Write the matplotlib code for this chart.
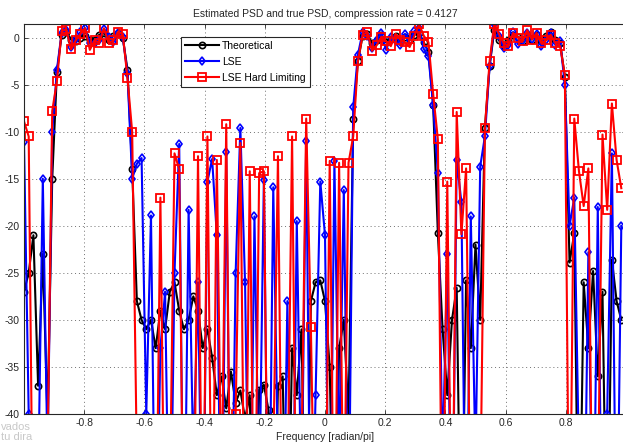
import numpy as np
import matplotlib
matplotlib.use("Agg")
import matplotlib.pyplot as plt

plt.rcParams['font.family'] = ['Liberation Sans', 'DejaVu Sans']

N = 128
freq = -1 + 2 * np.arange(N) / N

theoretical = [
    -27, -25, -21, -37, -23, -40.5, -15, -3.7,
    0.3, 0.6, -0.2, -0.4, 0.0, 0.2, -0.3, -0.2, 0.3, 0.5, -0.3, 0.2, 0.5, 0.0,
    -3.4, -14, -28, -30,
    -31, -30, -33, -29, -31, -27, -26, -29, -31, -30, -27.5, -29, -33, -31, -34, -38,
    -36, -39.4, -35.5, -38.8, -37.5, -40.5, -38, -60, -37.4, -36.9, -39.6, -60, -37, -36,
    -60, -33, -38, -31, -60, -28, -26, -25.8, -28, -35, -60, -33, -30, -40.3,
    -8.6, -2.5,
    0.2, 0.4, -0.6, -0.3, 0.3, -0.5, -0.1, 0.2, -0.4, 0.1, -0.2, 0.3, 0.5, -0.5,
    -1.5, -7.2, -20.8, -31, -38, -30, -26.6, -60, -25.8, -33, -22, -30, -9.6, -3,
    0.8, -0.3, -0.9, -0.2, 0.3, 0.1, -0.4, 0.2, -0.2, 0.3, -0.4, 0.2, 0.6, -0.3, -0.6,
    -4.2, -23.9, -20.8, -60, -26, -33, -24.8, -36, -27, -60, -23.6, -28, -30,
]

lse = [
    -11.1, -40, -60, -48, -15, -45, -10, -3.4,
    0.5, 0.8, -1.0, -0.1, 0.6, 1.0, -0.6, -0.6, -0.2, 0.9, 0.1, -0.5, 0.5, 0.1,
    -3.8, -15, -13.4, -12.8,
    -40, -18.9, -60, -33, -27, -60, -25, -11.3, -60, -18.3, -45, -26, -60, -15.3, -12.9, -21,
    -60, -12.2, -60, -25, -9.6, -26, -60, -19, -50, -15.1, -60, -15.9, -45, -60,
    -28, -60, -19.5, -50, -11, -60, -38, -15.3, -21, -60, -13.1, -45, -16.2, -55,
    -7.4, -1.8,
    0.6, 0.2, -1.1, -0.2, 0.5, -1.3, 0.1, -0.4, -0.8, 0.4, -0.3, 0.7, 1.0, -1.2,
    -2.0, -7.2, -14.4, -45, -23, -60, -13, -17.5, -60, -19, -45, -13.7, -10.5, -3,
    1.4, 0.2, -1.1, -0.8, 0.6, -0.7, -0.3, 0.5, -0.1, 0.4, -0.9, -0.2, 0.5, -0.8, -0.4,
    -5, -20, -17, -45, -60, -22.8, -60, -18, -60, -40, -12.3, -60, -20,
]

lse_hard = [
    -8.9, -10.5, -60, -50, -60, -45, -7.8, -4.6,
    0.7, 0.9, -1.25, -0.3, 0.4, 1.0, -1.3, -0.3, -0.55, 1.0, -0.6, -0.3, 0.6, 0.4,
    -4.3, -10, -45, -60,
    -60, -45, -60, -17, -60, -50, -12.3, -14, -60, -45, -60, -12.6, -60, -10.5, -60, -13,
    -50, -9.2, -60, -40, -11.2, -60, -14.2, -60, -14.4, -14.2, -60, -45, -12.6, -60,
    -50, -10.5, -60, -45, -8.6, -30.8, -60, -50, -60, -13.1, -60, -13.3, -55, -13.3,
    -10.5, -2.5,
    0.3, 0.6, -1.4, -0.8, 0.1, -0.4, -0.9, 0.4, -0.2, -0.5, -1.0, 0.2, 1.4, 0.2,
    -0.5, -6, -10.8, -60, -15.3, -60, -7.9, -20.9, -13.9, -55, -60, -50, -9.6, -2.5,
    1.5, 0.4, -0.6, -0.9, 0.5, 0.0, -0.4, 0.8, -0.2, 0.5, -0.6, -0.3, 0.3, -0.6, -0.9,
    -4.0, -60, -8.6, -14.2, -17.9, -13.9, -60, -50, -10.3, -18.3, -7, -13, -16,
]

xticks = [-0.8, -0.6, -0.4, -0.2, 0, 0.2, 0.4, 0.6, 0.8]
yticks = [0, -5, -10, -15, -20, -25, -30, -35, -40]

fig = plt.figure(figsize=(6.23, 4.43), dpi=100)
ax = fig.add_axes([24 / 623, 29 / 443, 602 / 623, 390 / 443])

ax.plot(freq, theoretical, '-o', color='black', lw=1.5, ms=4.5, mfc='none', mew=1.2,
        label='Theoretical')
ax.plot(freq, lse, '-d', color='blue', lw=1.5, ms=4.5, mfc='none', mew=1.2,
        label='LSE')
ax.plot(freq, lse_hard, '-s', color='red', lw=1.5, ms=6, mfc='none', mew=1.3,
        label='LSE Hard Limiting')

ax.set_xlim(-1, 1)
ax.set_ylim(-40, 1.45)
ax.set_xticks(xticks)
ax.set_xticklabels(['-0.8', '-0.6', '-0.4', '-0.2', '0', '0.2', '0.4', '0.6', '0.8'])
ax.set_yticks(yticks)
ax.set_yticklabels([str(v) for v in yticks])
ax.tick_params(direction='in', top=True, right=True, length=3, width=0.6,
               labelsize=7.5, colors='#262626', pad=3)
ax.grid(True, linestyle=(0, (1, 3)), color='#707070', lw=0.7)
for s in ax.spines.values():
    s.set_linewidth(0.8)
    s.set_color('#262626')

ax.set_title('Estimated PSD and true PSD, compression rate = 0.4127', fontsize=7.5,
             pad=5, color='#262626')
ax.set_xlabel('Frequency [radian/pi]', fontsize=7.5, color='#262626', labelpad=3)

leg = ax.legend(loc='upper left', bbox_to_anchor=(0.261, 0.967), borderaxespad=0,
                fancybox=False, framealpha=1, edgecolor='#262626', fontsize=7.5,
                handlelength=3.3, handletextpad=0.3, labelspacing=0.6, borderpad=0.35)
leg.get_frame().set_linewidth(0.8)

fig.text(0.002, 0.030, 'vados', fontsize=8, color='#c8c8c8')
fig.text(0.002, 0.006, 'tu dira', fontsize=8, color='#c8c8c8')

fig.savefig('out.png', dpi=100)
